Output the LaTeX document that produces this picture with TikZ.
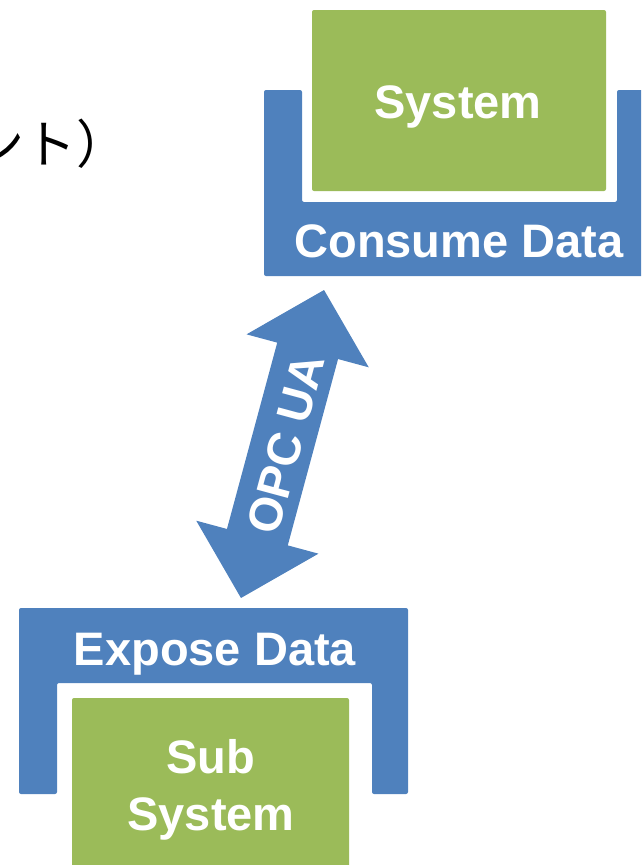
\documentclass[tikz,border=0pt]{standalone}
\usepackage{fontspec}
\setmainfont{Liberation Sans}
\newfontfamily\jpfont{Noto Sans CJK JP}
\definecolor{ablue}{HTML}{4F81BD}
\definecolor{agreen}{HTML}{9BBB59}
\begin{document}
\begin{tikzpicture}[x=1pt,y=-1pt,
  bracket/.style={fill=ablue, rounded corners=2pt},
  sysbox/.style={fill=agreen, rounded corners=2pt, inner sep=0pt},
  lbl/.style={text=white, inner sep=0pt, anchor=base,
    font=\fontsize{47}{56}\selectfont\bfseries}]
  \useasboundingbox (0,0) rectangle (641,865);
  \clip (0,0) rectangle (641,865);

  % partial caption at the top left
  \node[anchor=base west, inner sep=0pt,
        font=\jpfont\fontsize{52}{60}\selectfont] (note) at (-28,163) {ント）};

  % upper block: System on the Consume Data bracket
  \path[bracket] (264,90) -- (302,90) -- (302,202) -- (617,202) -- (617,90)
    -- (660,90) -- (660,276) -- (264,276) -- cycle;
  \node[sysbox, minimum width=294pt, minimum height=181pt] (sys) at (459,100.5) {};
  \node[lbl] (systxt) at (458,118) {System};
  \node[lbl] (consume) at (459,257) {Consume Data};

  % lower block: Sub System under the Expose Data bracket
  \path[bracket] (19,608) -- (408,608) -- (408,794) -- (372,794) -- (372,683)
    -- (57,683) -- (57,794) -- (19,794) -- cycle;
  \node[sysbox, minimum width=277pt, minimum height=174pt] (subsys) at (210.5,785) {};
  \node[lbl] (expose) at (215,665) {Expose Data};
  \node[lbl] (subtxt) at (211,773) {Sub};
  \node[lbl] (subtxt2) at (211,830) {System};

  % OPC UA double block arrow between the brackets
  \begin{scope}[shift={(282.5,444)}, rotate=74.9]
    \fill[ablue] (159.5,0) -- (96.5,63.3) -- (96.5,31.5) -- (-96.5,31.5)
      -- (-96.5,63.3) -- (-159.5,0) -- (-96.5,-63.3) -- (-96.5,-31.5)
      -- (96.5,-31.5) -- (96.5,-63.3) -- cycle;
  \end{scope}
  \node[text=white, inner sep=0pt, rotate=74.9,
        font=\fontsize{47}{56}\selectfont\bfseries] (opc) at (286,444) {OPC UA};
\end{tikzpicture}
\end{document}
